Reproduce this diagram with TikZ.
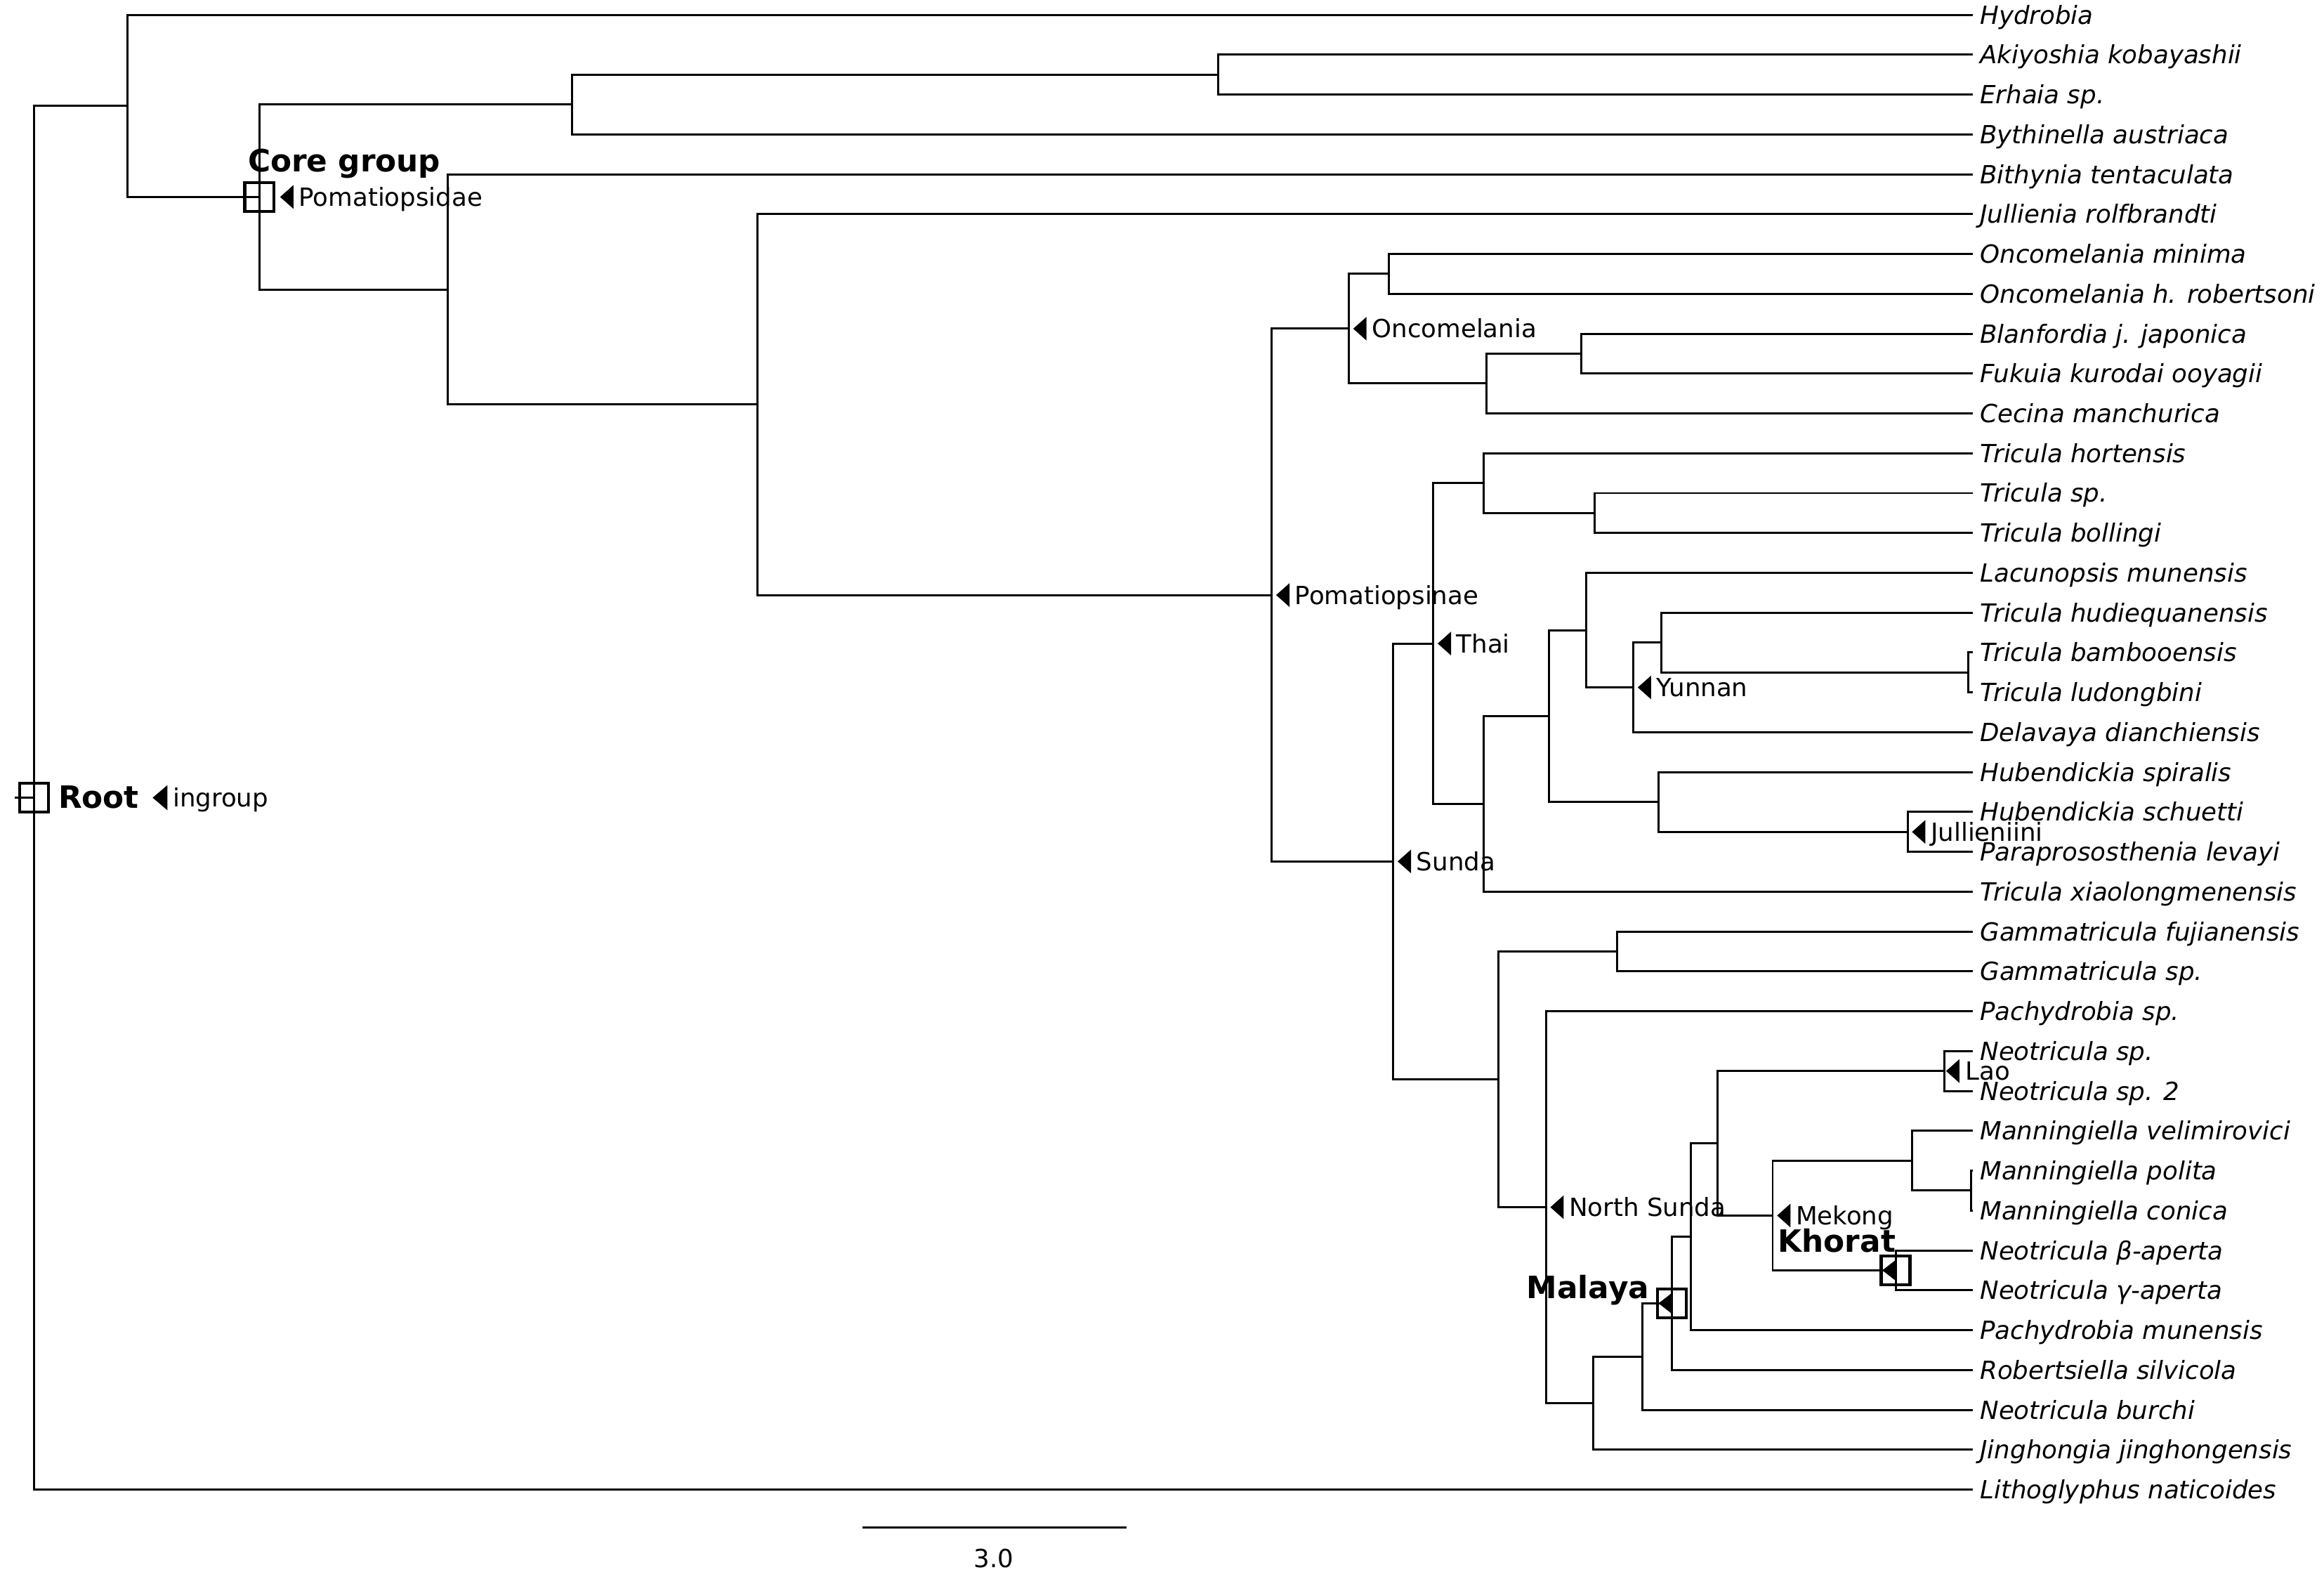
\documentclass[tikz,border=0pt]{standalone}
\usepackage{fontspec}
\setmainfont{DejaVu Sans}
\begin{document}
\begin{tikzpicture}[x=0.02cm, y=-0.53784cm, line width=0.8pt,
  leaf/.style={anchor=west, inner sep=0pt, outer xsep=0.1cm, outer ysep=0pt,
    text height=7pt, text depth=0pt, font=\fontsize{9.6}{11}\selectfont\itshape},
  tag/.style={anchor=west, inner sep=0pt, text height=7pt, text depth=0pt,
    font=\fontsize{9.6}{11}\selectfont},
  cladename/.style={inner sep=0pt, font=\fontsize{11.8}{14}\selectfont\bfseries},
  ringbox/.style={draw, line width=1.25pt, minimum size=0.39cm, inner sep=0pt}]

\useasboundingbox (0,-0.3719) rectangle (1568,39.194);

% ===== Internal nodes (x in px, y in leaf rows) =====
\coordinate (stem)     at (10,19.642);
\coordinate (root)     at (23,19.642);
\coordinate (n86)      at (86,2.2849);
\coordinate (core)     at (175,4.5698);
\coordinate (n386)     at (386,2.25);
\coordinate (n822)     at (822,1.5);
\coordinate (n302)     at (302,6.8895);
\coordinate (n511)     at (511,9.779);
\coordinate (pomsinae) at (858,14.558);
\coordinate (onc)      at (910,7.875);
\coordinate (n937)     at (937,6.5);
\coordinate (n1003)    at (1003,9.25);
\coordinate (n1067)    at (1067,8.5);
\coordinate (sunda)    at (940,21.2407);
\coordinate (thai)     at (967,15.7734);
\coordinate (n1001a)   at (1001,11.75);
\coordinate (n1076)    at (1076,12.5);
\coordinate (n1001b)   at (1001,19.7969);
\coordinate (n1045)    at (1045,17.5938);
\coordinate (n1070)    at (1070,15.4375);
\coordinate (yunnan)   at (1102,16.875);
\coordinate (n1121)    at (1121,15.75);
\coordinate (n1328)    at (1328,16.5);
\coordinate (n1119)    at (1119,19.75);
\coordinate (jull)     at (1287,20.5);
\coordinate (n1012)    at (1011,26.708);
\coordinate (n1091)    at (1091,23.5);
\coordinate (nsunda)   at (1043,29.916);
\coordinate (n1075)    at (1075,34.832);
\coordinate (n1108)    at (1108,33.664);
\coordinate (malaya)   at (1128,32.328);
\coordinate (n1141)    at (1141,30.656);
\coordinate (n1159)    at (1159,28.3125);
\coordinate (lao)      at (1312,26.5);
\coordinate (mekong)   at (1196,30.125);
\coordinate (n1290)    at (1290,28.75);
\coordinate (n1330)    at (1330,29.5);
\coordinate (khorat)   at (1279,31.5);

% ===== Leaves =====
\foreach \i/\name in {0/Hydrobia, 1/Akiyoshia kobayashii, 2/Erhaia sp.,
    3/Bythinella austriaca, 4/Bithynia tentaculata, 5/Jullienia rolfbrandti,
    6/Oncomelania minima, 7/Oncomelania h. robertsoni, 8/Blanfordia j. japonica,
    9/Fukuia kurodai ooyagii, 10/Cecina manchurica, 11/Tricula hortensis,
    12/Tricula sp., 13/Tricula bollingi, 14/Lacunopsis munensis,
    15/Tricula hudiequanensis, 16/Tricula bambooensis, 17/Tricula ludongbini,
    18/Delavaya dianchiensis, 19/Hubendickia spiralis, 20/Hubendickia schuetti,
    21/Paraprososthenia levayi, 22/Tricula xiaolongmenensis,
    23/Gammatricula fujianensis, 24/Gammatricula sp., 25/Pachydrobia sp.,
    26/Neotricula sp., 27/Neotricula sp. 2, 28/Manningiella velimirovici,
    29/Manningiella polita, 30/Manningiella conica, 31/Neotricula β-aperta,
    32/Neotricula γ-aperta, 33/Pachydrobia munensis, 34/Robertsiella silvicola,
    35/Neotricula burchi, 36/Jinghongia jinghongensis, 37/Lithoglyphus naticoides}
  \node[leaf] (L\i) at (1331,\i) {\name};

% ===== Branches =====
\draw (stem) -- (root);
\foreach \p/\c in {root/n86, root/L37, n86/L0, n86/core, core/n386, core/n302,
    n386/n822, n386/L3, n822/L1, n822/L2, n302/L4, n302/n511, n511/L5,
    n511/pomsinae, pomsinae/onc, pomsinae/sunda, onc/n937, onc/n1003,
    n937/L6, n937/L7, n1003/n1067, n1003/L10, n1067/L8, n1067/L9,
    sunda/thai, sunda/n1012, thai/n1001a, thai/n1001b, n1001a/L11,
    n1001a/n1076, n1076/L12, n1076/L13, n1001b/n1045, n1001b/L22,
    n1045/n1070, n1045/n1119, n1070/L14, n1070/yunnan, yunnan/n1121,
    yunnan/L18, n1121/L15, n1121/n1328, n1328/L16, n1328/L17, n1119/L19,
    n1119/jull, jull/L20, jull/L21, n1012/n1091, n1012/nsunda, n1091/L23,
    n1091/L24, nsunda/L25, nsunda/n1075, n1075/n1108, n1075/L36,
    n1108/malaya, n1108/L35, malaya/n1141, malaya/L34, n1141/n1159,
    n1141/L33, n1159/lao, n1159/mekong, lao/L26, lao/L27, mekong/n1290,
    mekong/khorat, n1290/L28, n1290/n1330, n1330/L29, n1330/L30,
    khorat/L31, khorat/L32}
  \draw (\p) |- (\c);

% ===== Clade tags =====
\foreach \n/\t in {pomsinae/Pomatiopsinae, onc/Oncomelania, sunda/Sunda,
    thai/Thai, yunnan/Yunnan, jull/Jullieniini, nsunda/North Sunda,
    mekong/Mekong} {
  \fill ([xshift=0.06cm]\n) -- ++(0.18cm,0.16cm) -- ++(0,-0.32cm) -- cycle;
  \node[tag] (tag-\n) at ([xshift=0.30cm]\n) {\t};
}
\fill ([xshift=0.02cm]lao) -- ++(0.18cm,0.16cm) -- ++(0,-0.32cm) -- cycle;
\node[tag] (tag-lao) at ([xshift=0.27cm]lao) {Lao};
\fill ([xshift=0.28cm]core) -- ++(0.18cm,0.16cm) -- ++(0,-0.32cm) -- cycle;
\node[tag] (tag-core) at ([xshift=0.52cm]core) {Pomatiopsidae};
\fill ([xshift=1.6cm]root) -- ++(0.2cm,0.17cm) -- ++(0,-0.34cm) -- cycle;
\node[tag] (tag-root) at ([xshift=1.86cm]root) {ingroup};

% Boxed clades
\node[ringbox] (rootbox) at (root) {};
\node[ringbox] (corebox) at (core) {};
\node[ringbox] (malayabox) at (malaya) {};
\node[ringbox] (khoratbox) at (khorat) {};
\fill (malaya) -- ++(0,0.14cm) -- ++(-0.18cm,-0.14cm) -- ++(0.18cm,-0.14cm) -- cycle;
\fill (khorat) -- ++(0,0.14cm) -- ++(-0.18cm,-0.14cm) -- ++(0.18cm,-0.14cm) -- cycle;
\node[cladename, anchor=base west] (rootname) at (38.7,19.91) {Root};
\node[cladename, anchor=base west] (corename) at (166.6,3.942) {Core group};
\node[cladename, anchor=base east] (malayaname) at (1113.4,32.2) {Malaya};
\node[cladename, anchor=base west] (khoratname) at (1199,31.05) {Khorat};

% ===== Scale bar =====
\coordinate (bar0) at (582,37.95);
\coordinate (bar1) at (760,37.95);
\draw[line width=0.72pt] (bar0) -- (bar1);
\node[tag, anchor=center] (barlabel) at (670.5,38.73) {3.0};

\end{tikzpicture}
\end{document}
